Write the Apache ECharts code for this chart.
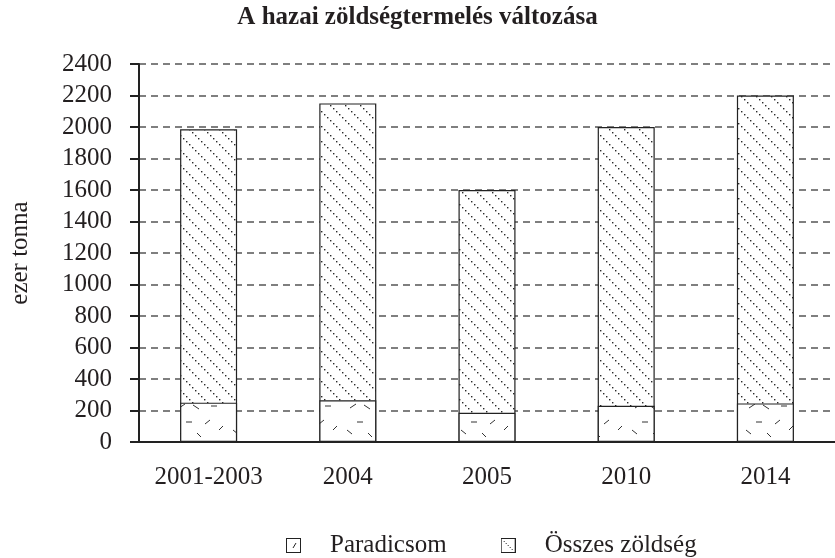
<!DOCTYPE html>
<html>
<head>
<meta charset="utf-8">
<script src="https://cdn.jsdelivr.net/npm/echarts@6/dist/echarts.min.js"></script>
<style>
  html, body { margin: 0; padding: 0; background: #fff; }
  #chart { width: 835px; height: 558px; }
</style>
</head>
<body>
<div id="chart"></div>
<script>
  const categories = ["2001-2003", "2004", "2005", "2010", "2014"];
  const total_veg = [1985, 2150, 1600, 2000, 2200];
  const tomato = [250, 265, 185, 230, 245];
  const series_names = ["Paradicsom", "Összes zöldség"];

  const font = '"Liberation Serif", "DejaVu Serif", serif';
  const ink = "#231f20";

  // diagonal dotted hatch for the total bars
  function hatch_pattern() {
    const c = document.createElement("canvas");
    c.width = 15;
    c.height = 15;
    const ctx = c.getContext("2d");
    ctx.fillStyle = "#fff";
    ctx.fillRect(0, 0, 15, 15);
    ctx.fillStyle = "#2a2a2a";
    for (let k = 0; k < 5; k++) {
      ctx.fillRect(k * 3, k * 3, 1.4, 1.4);
    }
    return c;
  }

  // sparse short dashes for the tomato bars
  function dash_pattern() {
    const c = document.createElement("canvas");
    c.width = 57;
    c.height = 40;
    const ctx = c.getContext("2d");
    ctx.fillStyle = "#fff";
    ctx.fillRect(0, 0, 57, 40);
    ctx.strokeStyle = "#333";
    ctx.lineWidth = 1;
    const dashes = [
      [8, 8, 14, 4], [22, 5, 28, 9], [40, 6, 46, 6],
      [15, 22, 21, 22], [34, 24, 39, 20], [5, 30, 10, 34],
      [48, 30, 52, 26], [26, 33, 30, 37],
    ];
    dashes.forEach(function (d) {
      ctx.beginPath();
      ctx.moveTo(d[0], d[1]);
      ctx.lineTo(d[2], d[3]);
      ctx.stroke();
    });
    return c;
  }

  function legend_icon(kind) {
    const c = document.createElement("canvas");
    c.width = 15;
    c.height = 15;
    const ctx = c.getContext("2d");
    ctx.fillStyle = "#fff";
    ctx.fillRect(0, 0, 15, 15);
    ctx.strokeStyle = "#222";
    ctx.lineWidth = 1;
    ctx.strokeRect(0.5, 0.5, 14, 14);
    ctx.fillStyle = "#333";
    if (kind === "dash") {
      ctx.beginPath();
      ctx.moveTo(7, 10);
      ctx.lineTo(10, 5);
      ctx.stroke();
    } else {
      for (let k = 3; k < 13; k += 2) ctx.fillRect(k, k, 1, 1);
    }
    return "image://" + c.toDataURL();
  }

  const myChart = echarts.init(document.getElementById("chart"));
  const option = {
    animation: false,
    backgroundColor: "#fff",
    title: {
      text: "A hazai zöldségtermelés változása",
      left: "center",
      top: 5,
      padding: [0, 10, 0, 0],
      textStyle: { fontFamily: font, fontSize: 25, fontWeight: "bold", color: ink },
    },
    legend: {
      left: 281,
      top: 528,
      itemWidth: 15,
      itemHeight: 15,
      itemGap: 54,
      selectedMode: false,
      data: [
        { name: series_names[0], icon: legend_icon("dash") },
        { name: series_names[1], icon: legend_icon("hatch") },
      ],
      textStyle: { fontFamily: font, fontSize: 25, color: ink, padding: [0, 0, 0, 24] },
    },
    grid: { left: 137, right: -7, top: 64, bottom: 116 },
    xAxis: {
      type: "category",
      data: categories,
      axisLine: { lineStyle: { color: "#222", width: 2 } },
      axisTick: { length: 10, lineStyle: { color: "#222", width: 2 } },
      axisLabel: { fontFamily: font, fontSize: 25, color: ink, margin: 23, interval: 0 },
    },
    yAxis: {
      type: "value",
      min: 0,
      max: 2400,
      interval: 200,
      name: "ezer tonna",
      nameLocation: "middle",
      nameGap: 106,
      nameTextStyle: { fontFamily: font, fontSize: 25, color: ink },
      axisLine: { show: true, lineStyle: { color: "#222", width: 2 } },
      axisTick: { show: true, length: 9, lineStyle: { color: "#222", width: 2 } },
      axisLabel: {
        fontFamily: font,
        fontSize: 25,
        color: ink,
        margin: 27,
        formatter: function (v) {
          return String(v);
        },
      },
      splitLine: { lineStyle: { color: "#555", width: 1.5, type: [7, 5] } },
    },
    series: [
      {
        name: series_names[1],
        type: "bar",
        data: total_veg,
        barWidth: 57,
        barGap: "-100%",
        itemStyle: {
          color: { image: hatch_pattern(), repeat: "repeat" },
          borderColor: "#222",
          borderWidth: 1.2,
        },
        emphasis: { disabled: true },
      },
      {
        name: series_names[0],
        type: "bar",
        data: tomato,
        barWidth: 57,
        barGap: "-100%",
        itemStyle: {
          color: { image: dash_pattern(), repeat: "repeat" },
          borderColor: "#222",
          borderWidth: 1.2,
        },
        emphasis: { disabled: true },
      },
    ],
  };
  myChart.setOption(option);
</script>
</body>
</html>
